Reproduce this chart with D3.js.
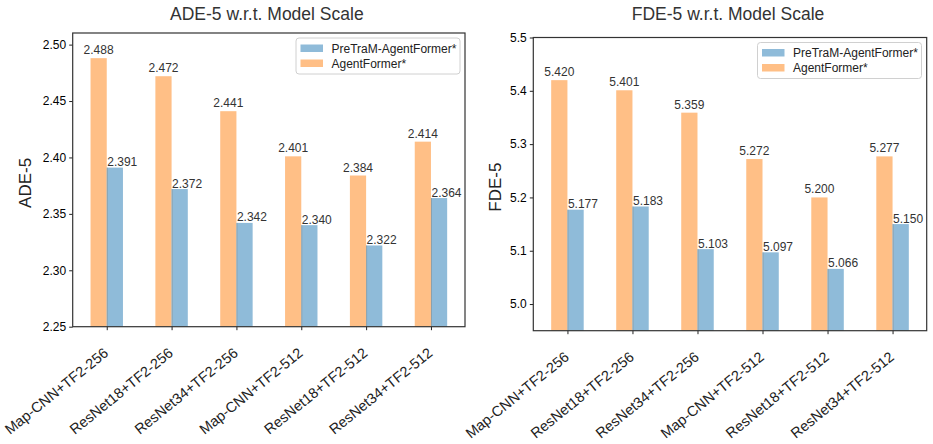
<!DOCTYPE html>
<html>
<head>
<meta charset="utf-8">
<script src="https://cdn.jsdelivr.net/npm/d3@7"></script>
<style>
  body { margin: 0; background: #fff; }
  text { font-family: "Liberation Sans", Arial, sans-serif; }
</style>
</head>
<body>
<div id="chart"></div>
<script>
// data
const models = [
	"Map-CNN+TF2-256",
	"ResNet18+TF2-256",
	"ResNet34+TF2-256",
	"Map-CNN+TF2-512",
	"ResNet18+TF2-512",
	"ResNet34+TF2-512"
];
const seriesNames = ["PreTraM-AgentFormer*", "AgentFormer*"];

const adeAgentFormer = [2.488, 2.472, 2.441, 2.401, 2.384, 2.414];
const adePreTraM = [2.391, 2.372, 2.342, 2.340, 2.322, 2.364];
const fdeAgentFormer = [5.420, 5.401, 5.359, 5.272, 5.200, 5.277];
const fdePreTraM = [5.177, 5.183, 5.103, 5.097, 5.066, 5.150];

const adeTicks = [2.25, 2.30, 2.35, 2.40, 2.45, 2.50];
const fdeTicks = [5.0, 5.1, 5.2, 5.3, 5.4, 5.5];

// set up svg
const width = 933;
const height = 444;
const svg = d3.select("#chart")
	.append("svg")
	.attr("width", width)
	.attr("height", height);

const blue = "#8fbbd9";
const orange = "#ffbf86";

const panels = [
	{
		title: "ADE-5 w.r.t. Model Scale", ylabel: "ADE-5",
		orange: adeAgentFormer, blue: adePreTraM, ticks: adeTicks, fmt: ".2f",
		domain: [2.25, 2.5103],
		left: 72.7, right: 465, top: 33, bottom: 326.7, ylabelX: 25,
		legend: { x: 296, y: 38, w: 164, h: 36 }
	},
	{
		title: "FDE-5 w.r.t. Model Scale", ylabel: "FDE-5",
		orange: fdeAgentFormer, blue: fdePreTraM, ticks: fdeTicks, fmt: ".1f",
		domain: [4.95, 5.5],
		left: 533.3, right: 926.7, top: 37.5, bottom: 330.7, ylabelX: 495,
		legend: { x: 757.5, y: 42.5, w: 164, h: 36 }
	}
];

const barW = 0.25;

panels.forEach((p) => {
	const g = svg.append("g");

	const xScale = d3.scaleLinear()
		.domain([-0.525, models.length - 1 + 0.525])
		.range([p.left, p.right]);
	const yScale = d3.scaleLinear()
		.domain(p.domain)
		.range([p.bottom, p.top]);

	const w = xScale(barW) - xScale(0);

	// orange bars (left of tick)
	g.selectAll("rect.orange")
		.data(p.orange)
		.enter()
		.append("rect")
		.attr("x", (d, i) => xScale(i - barW))
		.attr("y", (d) => yScale(d))
		.attr("width", w)
		.attr("height", (d) => p.bottom - yScale(d))
		.attr("fill", orange);

	// blue bars (right of tick)
	g.selectAll("rect.blue")
		.data(p.blue)
		.enter()
		.append("rect")
		.attr("x", (d, i) => xScale(i))
		.attr("y", (d) => yScale(d))
		.attr("width", w)
		.attr("height", (d) => p.bottom - yScale(d))
		.attr("fill", blue);

	// thin seam where bars meet
	g.selectAll("line.seam")
		.data(p.blue)
		.enter()
		.append("line")
		.attr("x1", (d, i) => xScale(i) + 0.5)
		.attr("x2", (d, i) => xScale(i) + 0.5)
		.attr("y1", (d) => yScale(d))
		.attr("y2", p.bottom)
		.attr("stroke", "#8a8f8c")
		.attr("stroke-width", 1)
		.attr("opacity", 0.6);

	// value labels
	g.selectAll("text.vo")
		.data(p.orange)
		.enter()
		.append("text")
		.attr("x", (d, i) => xScale(i - barW / 2))
		.attr("y", (d) => yScale(d) - 4)
		.attr("text-anchor", "middle")
		.attr("font-size", 12)
		.attr("fill", "#333")
		.text((d) => d3.format(".3f")(d));

	g.selectAll("text.vb")
		.data(p.blue)
		.enter()
		.append("text")
		.attr("x", (d, i) => xScale(i) + 0.5)
		.attr("y", (d) => yScale(d) - 1.5)
		.attr("text-anchor", "start")
		.attr("font-size", 12)
		.attr("fill", "#333")
		.text((d) => d3.format(".3f")(d));

	// axes
	const yAxis = d3.axisLeft(yScale)
		.tickValues(p.ticks)
		.tickFormat(d3.format(p.fmt))
		.tickSize(3.5)
		.tickPadding(3);
	const ya = g.append("g")
		.attr("transform", `translate(${p.left},0)`)
		.call(yAxis);
	ya.select(".domain").remove();
	ya.selectAll("text").attr("font-size", 12).attr("fill", "#000")
		.style("font-family", "'Liberation Sans', Arial, sans-serif");
	ya.selectAll("line").attr("stroke", "#222");

	const xAxis = d3.axisBottom(xScale)
		.tickValues(d3.range(models.length))
		.tickFormat((i) => models[i])
		.tickSize(3.5);
	const xa = g.append("g")
		.attr("transform", `translate(0,${p.bottom})`)
		.call(xAxis);
	xa.select(".domain").remove();
	xa.selectAll("line").attr("stroke", "#222");
	xa.selectAll("text")
		.attr("font-size", 14.5)
		.attr("fill", "#222")
		.style("font-family", "'Liberation Sans', Arial, sans-serif")
		.attr("text-anchor", "end")
		.attr("dy", null)
		.attr("y", 0)
		.attr("transform", "translate(2,28) rotate(-39)");

	// frame
	g.append("rect")
		.attr("x", p.left)
		.attr("y", p.top)
		.attr("width", p.right - p.left)
		.attr("height", p.bottom - p.top)
		.attr("fill", "none")
		.attr("stroke", "#333")
		.attr("stroke-width", 1.2);

	// title
	g.append("text")
		.attr("x", (p.left + p.right) / 2 - 2)
		.attr("y", 19.5)
		.attr("text-anchor", "middle")
		.attr("font-size", 17.5)
		.attr("fill", "#333")
		.text(p.title);

	// y label
	g.append("text")
		.attr("transform", `translate(${p.ylabelX + 6},${(p.top + p.bottom) / 2 + 3}) rotate(-90)`)
		.attr("text-anchor", "middle")
		.attr("font-size", 17)
		.attr("fill", "#222")
		.text(p.ylabel);

	// legend
	const L = p.legend;
	const lg = g.append("g").attr("transform", `translate(${L.x},${L.y})`);
	lg.append("rect")
		.attr("width", L.w)
		.attr("height", L.h)
		.attr("rx", 3)
		.attr("fill", "#fff")
		.attr("fill-opacity", 0.8)
		.attr("stroke", "#d0d0d0");
	[blue, orange].forEach((c, k) => {
		lg.append("rect")
			.attr("x", 4.5)
			.attr("y", 6.5 + k * 15)
			.attr("width", 22.5)
			.attr("height", 7.5)
			.attr("fill", c);
		lg.append("text")
			.attr("x", 35.5)
			.attr("y", 14.5 + k * 15)
			.attr("font-size", 12)
			.attr("fill", "#222")
			.text(seriesNames[k]);
	});
});
</script>
</body>
</html>
